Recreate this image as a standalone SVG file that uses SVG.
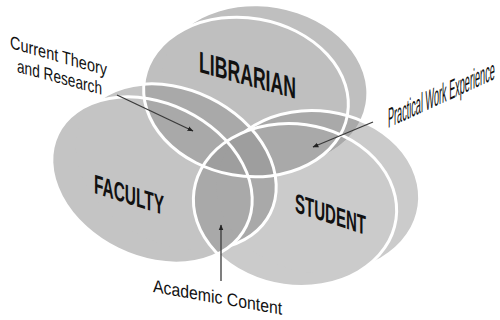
<svg xmlns="http://www.w3.org/2000/svg" xmlns:xlink="http://www.w3.org/1999/xlink" width="500" height="320" viewBox="0 0 500 320">
  <style>
    .ring { fill: none; stroke: #ffffff; stroke-width: 3; }
    .node-label { font-family: "Liberation Sans", Arial, sans-serif; font-weight: 600; fill: #111111; }
    .edge-label { font-family: "Liberation Sans", Arial, sans-serif; fill: #111111; }
    .edge { fill: none; stroke: #3a3a3a; stroke-width: 1.3; }
  </style>
  <defs>
    <ellipse id="eL1" cx="246" cy="97" rx="103" ry="79" transform="rotate(10 246 97)"/>
    <ellipse id="eL2" cx="264" cy="86" rx="103" ry="79" transform="rotate(10 264 86)"/>
    <ellipse id="eF1" cx="152" cy="180" rx="105" ry="77" transform="rotate(26 152 180)"/>
    <ellipse id="eF2" cx="176" cy="167" rx="105" ry="77" transform="rotate(26 176 167)"/>
    <ellipse id="eS1" cx="295" cy="205" rx="102" ry="81" transform="rotate(8 295 205)"/>
    <ellipse id="eS2" cx="318" cy="192" rx="102" ry="81" transform="rotate(8 318 192)"/>
    <clipPath id="clipL"><use xlink:href="#eL1"/><use xlink:href="#eL2"/></clipPath>
    <clipPath id="clipF"><use xlink:href="#eF1"/><use xlink:href="#eF2"/></clipPath>
    <mask id="notF1" maskUnits="userSpaceOnUse" x="0" y="0" width="500" height="320">
      <rect x="0" y="0" width="500" height="320" fill="#ffffff"/>
      <use xlink:href="#eF1" fill="#000000"/>
    </mask>
    <mask id="notS1" maskUnits="userSpaceOnUse" x="0" y="0" width="500" height="320">
      <rect x="0" y="0" width="500" height="320" fill="#ffffff"/>
      <use xlink:href="#eS1" fill="#000000"/>
    </mask>
    <marker id="arrow" viewBox="0 0 10 10" refX="9" refY="5" markerWidth="6" markerHeight="6" orient="auto" markerUnits="userSpaceOnUse">
      <path d="M0,1 L10,5 L0,9 Z" fill="#222222"/>
    </marker>
  </defs>

  <rect x="0" y="0" width="500" height="320" fill="#ffffff"/>

  <!-- disc fills -->
  <g id="disc-fills">
    <g id="faculty-fill" fill="#c4c4c4"><use xlink:href="#eF1"/><use xlink:href="#eF2"/></g>
    <g id="student-fill" fill="#cbcbcb"><use xlink:href="#eS1"/><use xlink:href="#eS2"/></g>
    <g id="librarian-fill" fill="#bfbfbf"><use xlink:href="#eL1"/><use xlink:href="#eL2"/></g>
    <g id="overlaps" fill="#a9a9a9">
      <g clip-path="url(#clipL)">
        <use xlink:href="#eF1"/><use xlink:href="#eF2"/>
        <use xlink:href="#eS1"/><use xlink:href="#eS2"/>
      </g>
      <g clip-path="url(#clipF)">
        <use xlink:href="#eS1"/><use xlink:href="#eS2"/>
      </g>
      <g clip-path="url(#clipL)">
        <g clip-path="url(#clipF)" fill="#9e9e9e">
          <use xlink:href="#eS1"/><use xlink:href="#eS2"/>
        </g>
      </g>
    </g>
  </g>

  <!-- nodes -->
  <g id="faculty">
    <use xlink:href="#eF2" class="ring" mask="url(#notF1)"/>
    <use xlink:href="#eF1" class="ring"/>
    <text class="node-label" font-size="27" transform="translate(94,193) skewY(17.4)" textLength="70" lengthAdjust="spacingAndGlyphs">FACULTY</text>
  </g>
  <g id="student">
    <use xlink:href="#eS2" class="ring" mask="url(#notS1)"/>
    <use xlink:href="#eS1" class="ring"/>
    <text class="node-label" font-size="27" transform="translate(295,212) skewY(18)" textLength="71" lengthAdjust="spacingAndGlyphs">STUDENT</text>
  </g>
  <g id="librarian">
    <use xlink:href="#eL1" class="ring"/>
    <text class="node-label" font-size="30" transform="translate(199,72) skewY(15.5)" textLength="97" lengthAdjust="spacingAndGlyphs">LIBRARIAN</text>
  </g>

  <!-- connectors -->
  <g id="connectors">
    <line class="edge" x1="117" y1="95" x2="193" y2="131" marker-end="url(#arrow)"/>
    <line class="edge" x1="373" y1="122" x2="313" y2="147" marker-end="url(#arrow)"/>
    <line class="edge" x1="221" y1="281" x2="221" y2="225" marker-end="url(#arrow)"/>
  </g>

  <!-- connector labels -->
  <g id="label-theory">
    <text class="edge-label" font-size="18" transform="translate(10,48) skewY(16)" textLength="97" lengthAdjust="spacingAndGlyphs">Current Theory</text>
    <text class="edge-label" font-size="18" transform="translate(17,72) skewY(15)" textLength="85" lengthAdjust="spacingAndGlyphs">and Research</text>
  </g>
  <g id="label-practical">
    <text class="edge-label" font-size="28" transform="translate(388,128) skewY(-24.7) scale(0.326,1)">Practical Work Experience</text>
  </g>
  <g id="label-academic">
    <text class="edge-label" font-size="18" transform="translate(153,292) skewY(10) scale(0.878,1)">Academic Content</text>
  </g>
</svg>
